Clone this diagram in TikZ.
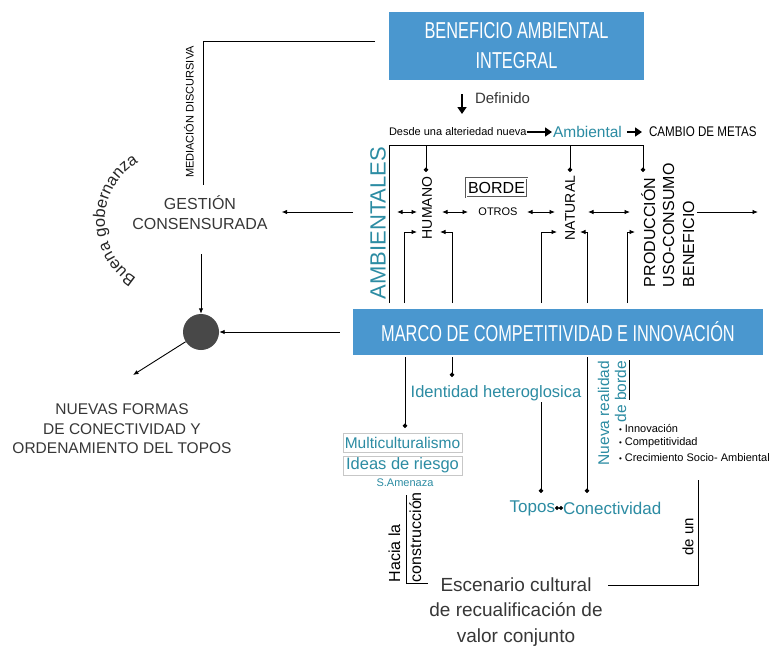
\documentclass[tikz,border=0pt]{standalone}
\usepackage{fontspec}
\setmainfont{Liberation Sans}
\newfontfamily\narrowf[FakeStretch=0.71]{Liberation Sans}
\newfontfamily\condf[FakeStretch=0.83]{Liberation Sans}
\usetikzlibrary{arrows.meta,decorations.text,calc}
\definecolor{boxblue}{RGB}{74,151,207}
\definecolor{tealtx}{RGB}{44,140,163}
\definecolor{graytx}{RGB}{55,55,55}
\definecolor{hubgray}{RGB}{72,72,72}
\newcommand{\fsz}[1]{\fontsize{#1}{#1}\selectfont}
\begin{document}
\begin{tikzpicture}[x=1pt,y=-1pt,
 ln/.style={line width=0.9pt,draw=black},
 arr/.style={ln,-{Latex[length=5.5pt,width=4.5pt]}},
 darr/.style={ln,{Latex[length=5.5pt,width=4.5pt]}-{Latex[length=5.5pt,width=4.5pt]}},
 dotln/.style={ln,-{Circle[length=4.5pt]}},
 bigarr/.style={line width=1.7pt,-{Triangle[length=7pt,width=9pt]}},
 bluebox/.style={fill=boxblue,text=white,inner sep=0pt,align=center,font=\narrowf\fontsize{23}{30}\selectfont},
 txt/.style={inner sep=0pt,outer sep=0pt},
 tl/.style={txt,text=tealtx},
 tbox/.style={tl,draw=black!22,line width=0.6pt,minimum width=119pt,minimum height=19pt}]
\fill[white] (0,0) rectangle (775,648);
\useasboundingbox (0,0) rectangle (775,648);

% ---------- top ----------
\node[bluebox,minimum width=255pt,minimum height=68pt] (ben) at (516.5,46) {BENEFICIO AMBIENTAL\\INTEGRAL};
\node[txt,rotate=90,font=\fsz{11}] (med) at (189,112) {MEDIACIÓN DISCURSIVA};
\node[txt,align=center,font=\fontsize{16}{20}\selectfont,text=graytx] (ges) at (200,213) {GESTIÓN\\CONSENSURADA};
\coordinate (medA) at (375,41);
\coordinate (medB) at (203,41);
\coordinate (medC) at (203,185);
\draw[ln] (medA) -- (medB) -- (medC);

\coordinate (d1) at (462,94);
\coordinate (d2) at (462,114);
\draw[bigarr] (d1) -- (d2);
\node[txt,anchor=west,font=\fsz{15},text=graytx] (def) at (475,98) {Definido};

\node[txt,anchor=west,font=\fsz{11}] (desde) at (389,132) {Desde una alteriedad nueva};
\node[tl,anchor=west,font=\fsz{15.5}] (ambl) at (553,132) {Ambiental};
\node[txt,anchor=west,font=\condf\fsz{14}] (cambio) at (649,132) {CAMBIO DE METAS};
\draw[bigarr,line width=1.5pt,shorten >=1pt] (desde.east) -- (ambl.west);
\draw[bigarr,line width=1.5pt,shorten <=5pt,shorten >=7pt] (ambl.east) -- (cambio.west);

% ---------- ambientales frame ----------
\node[tl,rotate=90,font=\fsz{22}] (ambs) at (378,223) {AMBIENTALES};
\node[txt,rotate=90,font=\fsz{14}] (hum) at (427,208) {HUMANO};
\node[txt,rotate=90,font=\fsz{14}] (nat) at (570,208) {NATURAL};
\node[txt,draw=black!65,double,double distance=0.8pt,line width=0.5pt,minimum width=61pt,minimum height=19pt,font=\fsz{16}] (borde) at (496.5,187.5) {BORDE};
\node[txt,font=\fsz{11}] (otros) at (498,212) {OTROS};
\node[txt,rotate=90,anchor=base west,font=\fsz{16}] (prod) at (655,287) {PRODUCCIÓN};
\node[txt,rotate=90,anchor=base west,font=\fsz{16}] (uso) at (674,287) {USO-CONSUMO};
\node[txt,rotate=90,anchor=base west,font=\fsz{16}] (benf) at (694,287) {BENEFICIO};

\coordinate (fL) at (389,145);
\coordinate (fR) at (643,145);
\coordinate (fLb) at (389,303);
\coordinate (hTop) at (426,145);
\coordinate (hDot) at (426,172);
\coordinate (nTop) at (570,145);
\coordinate (nDot) at (570,172);
\coordinate (pDot) at (643,172);
\draw[ln] (fLb) -- (fL) -- (fR);
\draw[dotln] (fR) -- (pDot);
\draw[dotln] (hTop) -- (hDot);
\draw[dotln] (nTop) -- (nDot);

\coordinate (g1) at (353,212);
\draw[arr,shorten >=14pt] (g1) -- (ges.east |- g1);
\draw[darr] (397,212) coordinate (a1) -- (417,212) coordinate (a2);
\draw[darr] (442,212) coordinate (a3) -- (468,212) coordinate (a4);
\draw[darr] (527,212) coordinate (a5) -- (555,212) coordinate (a6);
\draw[darr] (588,212) coordinate (a7) -- (630,212) coordinate (a8);
\draw[arr] (697,212) coordinate (a9) -- (758,212) coordinate (a10);

\draw[arr] (404,303) coordinate (k1) -- (404,232) -- (417,232) coordinate (k1e);
\draw[arr] (452,303) coordinate (k2) -- (452,232) -- (440,232) coordinate (k2e);
\draw[arr] (541,303) coordinate (k3) -- (541,232) -- (557,232) coordinate (k3e);
\draw[arr] (587,303) coordinate (k4) -- (587,232) -- (580,232) coordinate (k4e);
\draw[arr] (627,303) coordinate (k5) -- (627,232) -- (635,232) coordinate (k5e);

% ---------- marco ----------
\node[bluebox,minimum width=410pt,minimum height=46pt] (marco) at (558,332) {MARCO DE COMPETITIVIDAD E INNOVACIÓN};

% ---------- left side ----------
\node[circle,fill=hubgray,minimum size=36pt,inner sep=0pt] (hub) at (201,332) {};
\draw[arr,shorten <=24pt] (ges.south -| hub.north) -- (hub.north);
\draw[arr,shorten <=13pt] (marco.west) -- (hub.east);
\coordinate (nv) at (133,375);
\draw[arr] (hub) -- (nv);
\node[txt,align=center,font=\fontsize{15.5}{19.5}\selectfont,text=graytx] (nuevas) at (122,429) {NUEVAS FORMAS\\DE CONECTIVIDAD Y\\ORDENAMIENTO DEL TOPOS};

\path[decorate,decoration={text along path,text align=center,
  text={|\fsz{16.5}\color{black!85}|Buena gobernanza}}]
  (143,282) arc[start angle=116,end angle=246,radius=68];

% ---------- below marco ----------
\node[tbox,font=\fsz{15.5}] (multi) at (402.5,442.5) {Multiculturalismo};
\node[tbox,font=\fsz{16.5}] (ideas) at (402.5,465.5) {Ideas de riesgo};
\node[tl,font=\fsz{11}] (amen) at (405,483) {S.Amenaza};
\draw[dotln] (405,357) coordinate (m1) -- (405,428) coordinate (m2);

\node[tl,font=\fsz{16.5}] (ident) at (496,393) {Identidad heteroglosica};
\draw[dotln] (452,357) coordinate (i1) -- (452,377) coordinate (i2);

\node[tl,anchor=east,font=\fsz{17}] (topos) at (555,508) {Topos};
\node[tl,anchor=west,font=\fsz{17}] (conec) at (563,508) {Conectividad};
\draw[{Circle[length=4pt]}-{Circle[length=4pt]},line width=0.7pt] (topos.east) -- (conec.west);
\draw[dotln] (541,402) coordinate (t1) -- (541,493) coordinate (t2);
\draw[dotln] (587,357) coordinate (c1) -- (587,493) coordinate (c2);

\node[tl,rotate=90,anchor=base east,font=\fsz{15.5}] (nueva) at (609,361) {Nueva realidad};
\node[tl,rotate=90,anchor=base east,font=\fsz{15.5}] (deborde) at (626,361) {de borde};
\draw[ln] (629,360) coordinate (b1) -- (629,400) coordinate (b2);

\node[txt,anchor=west,font=\fsz{11}] (bul1) at (619,428) {{\fsz{8}•} Innovación};
\node[txt,anchor=west,font=\fsz{11}] (bul2) at (619,443) {{\fsz{8}•} Competitividad};
\node[txt,anchor=west,font=\fsz{11}] (bul3) at (619,458) {{\fsz{8}•} Crecimiento Socio- Ambiental};

% ---------- escenario ----------
\node[txt,align=center,font=\fontsize{19}{25.5}\selectfont,text=graytx] (esc) at (516,612) {Escenario cultural\\de recualificación de\\valor conjunto};
\node[txt,rotate=90,anchor=base west,font=\fsz{16}] (hacia) at (400,582) {Hacia la};
\node[txt,rotate=90,anchor=base west,font=\fsz{16}] (constr) at (421,582) {construcción};
\draw[ln] (406,495) coordinate (h1) -- (406,583) -- (428,583) coordinate (h2);
\node[txt,rotate=90,font=\fsz{15}] (deun) at (688,537) {de un};
\draw[ln] (608,585) coordinate (e1) -- (698,585) -- (698,480) coordinate (e3);
\end{tikzpicture}
\end{document}
